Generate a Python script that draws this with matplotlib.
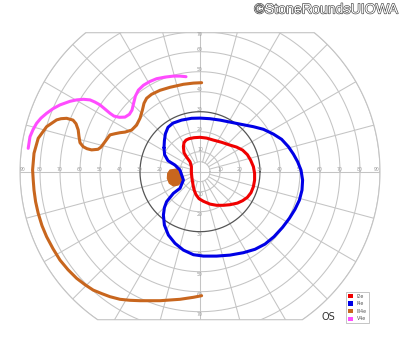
import numpy as np
import matplotlib
matplotlib.use("Agg")
import matplotlib.pyplot as plt
from matplotlib.patches import Polygon, Patch
from matplotlib import patheffects as pe

# ---- data: isopters, field coordinates in degrees (x: horizontal, y: vertical) ----
i2e_x = [-8.3, -8.0, -7.0, -5.5, -3.0, 0.0, 3.3, 6.7, 10.8, 15.0, 18.3, 21.3, 23.7, 25.3,
         26.7, 27.3, 27.3, 26.7, 25.5, 23.7, 21.3, 18.7, 15.0, 11.7, 8.3, 5.0, 1.7, -0.5,
         -2.0, -3.0, -3.5, -4.0, -4.3, -4.3, -5.0, -6.7, -8.0, -8.3]
i2e_y = [12.5, 14.5, 15.8, 16.5, 17.0, 17.2, 16.8, 15.8, 14.7, 13.3, 12.3, 10.8, 8.5, 5.8,
         2.5, -0.8, -4.2, -7.5, -10.5, -12.8, -14.5, -15.7, -16.5, -16.8, -16.8, -16.2, -14.8, -13.5,
         -11.5, -9.0, -6.5, -3.5, -0.5, 2.5, 5.0, 7.3, 9.5, 12.5]

i4e_x = [-18.0, -17.8, -17.3, -16.0, -13.5, -9.2, -4.2, 0.0, 5.0, 10.0, 15.0, 20.0, 26.7,
         31.7, 36.7, 40.8, 44.2, 46.7, 48.8, 50.5, 51.3, 51.0, 49.7, 47.5, 44.7, 41.3, 37.0,
         32.5, 27.5, 21.7, 15.0, 8.3, 1.7, -3.3, -8.3, -12.5, -15.8, -17.8, -18.3, -17.8,
         -16.7, -13.3, -10.0, -8.3, -10.0, -12.5, -16.0, -17.7, -18.0]
i4e_y = [12.0, 15.5, 19.0, 22.2, 24.3, 25.8, 26.7, 26.8, 26.5, 25.8, 24.8, 23.8, 22.5,
         21.2, 18.8, 16.2, 12.5, 8.8, 5.0, 0.8, -4.2, -9.2, -14.2, -18.8, -23.3, -27.8, -32.5,
         -36.2, -38.8, -40.5, -41.7, -42.2, -42.2, -41.5, -39.2, -35.8, -31.7, -26.7, -21.7, -18.0,
         -15.0, -10.8, -8.3, -4.2, 0.8, 3.3, 5.5, 8.5, 12.0]

iii4e_x = [0.8, -3.3, -8.3, -15.0, -20.0, -24.2, -26.7, -28.0, -28.8, -30.0, -31.7, -34.2,
           -37.5, -40.0, -42.5, -45.0, -47.5, -49.5, -51.0, -54.2, -56.5, -58.4, -60.0, -60.5,
           -60.9, -62.0, -63.5, -66.7, -69.5, -71.7, -76.7, -80.9, -83.0, -83.7, -83.4, -83.0,
           -82.2, -80.9, -79.0, -76.7, -73.5, -70.0, -66.0, -61.7, -57.5, -53.4, -49.0, -45.0,
           -40.0, -35.0, -30.0, -20.0, -10.0, -3.3, 0.8]
iii4e_y = [44.5, 44.3, 43.7, 42.2, 40.7, 38.7, 36.7, 34.2, 30.8, 26.7, 23.3, 20.8,
           19.8, 19.5, 19.0, 18.4, 15.0, 12.3, 11.2, 10.9, 11.5, 12.5, 14.5, 17.5,
           20.9, 24.0, 25.8, 26.7, 26.5, 25.9, 22.5, 16.7, 9.2, 0.9, -4.0, -9.2,
           -15.0, -20.8, -27.0, -32.5, -38.5, -44.2, -49.0, -53.3, -56.5, -59.2, -61.0, -62.5,
           -63.8, -64.3, -64.5, -64.5, -63.8, -62.8, -62.0]

# blind-spot scotoma (III4e), filled
spot_x = [-15.0, -11.65, -9.65, -8.65, -9.15, -10.85, -13.35, -15.35, -16.35, -16.15]
spot_y = [0.85, 1.35, 0.0, -2.5, -5.0, -6.65, -7.15, -5.8, -3.3, -0.8]

v4e_x = [-7.0, -10.0, -13.3, -17.5, -21.7, -25.3, -28.3, -30.8, -32.3, -33.2, -34.0, -35.3,
         -37.5, -40.3, -43.0, -45.0, -47.5, -50.0, -52.5, -55.0, -58.3, -61.7, -65.0, -70.0,
         -73.5, -76.7, -79.5, -81.7, -83.5, -85.0, -85.9]
v4e_y = [47.5, 47.8, 47.8, 47.3, 46.5, 45.0, 43.2, 40.8, 37.8, 34.2, 30.8, 28.7,
         27.3, 27.2, 27.8, 29.2, 31.3, 33.4, 34.8, 35.9, 36.2, 35.9, 35.2, 33.4,
         31.5, 29.2, 26.8, 24.2, 21.0, 17.5, 11.7]

ring_values = [10, 20, 30, 40, 50, 60, 70, 80, 90]
h_labels = ["10", "20", "30", "40", "50", "60", "70", "80", "90"]
v_labels = ["10", "20", "30", "40", "50", "60", "70"]
legend_labels = ["I2e", "I4e", "III4e", "V4e"]
colors = ["#f00000", "#0000e6", "#c8661e", "#ff4cff"]

fig = plt.figure(figsize=(4.0, 3.52), dpi=100)
ax = fig.add_axes([0, 0, 1, 1])
ax.set_xlim(-100, 100)
ax.set_ylim(-90.15, 85.85)
ax.axis("off")

TOP, BOT, RMAX = 69.5, 74.0, 90.0
a_top = np.degrees(np.arcsin(TOP / RMAX))
a_bot = np.degrees(np.arcsin(BOT / RMAX))
th1 = np.radians(np.linspace(a_top, -a_bot, 200))
th2 = np.radians(np.linspace(180 + a_bot, 180 - a_top, 200))
bx = np.concatenate([RMAX * np.cos(th1), RMAX * np.cos(th2)])
by = np.concatenate([RMAX * np.sin(th1), RMAX * np.sin(th2)])
border = Polygon(np.column_stack([bx, by]), closed=True, fill=False,
                 edgecolor="#c4c4c4", lw=0.8, zorder=1)
ax.add_patch(border)

grid_c = "#c4c4c4"
t = np.linspace(0, 2 * np.pi, 400)
for r in [5] + ring_values:
    if r == 30:
        continue
    ln, = ax.plot(r * np.cos(t), r * np.sin(t), color=grid_c, lw=0.75, zorder=1)
    ln.set_clip_path(border)
ax.plot(30 * np.cos(t), 30 * np.sin(t), color="#555555", lw=0.9, zorder=2)

for a in range(0, 360, 15):
    ar = np.radians(a)
    r0 = 0 if a % 90 == 0 else 5
    ln, = ax.plot([r0 * np.cos(ar), 100 * np.cos(ar)], [r0 * np.sin(ar), 100 * np.sin(ar)],
                  color=grid_c, lw=0.75, zorder=1)
    ln.set_clip_path(border)

lab_kw = dict(fontsize=3.3, color="#9a9a9a", ha="center", va="center", zorder=3)
for r, s in zip(ring_values, h_labels):
    xr = 88.5 if r == 90 else r
    ax.text(xr, 1.0, s, **lab_kw)
    ax.text(-xr, 1.0, s, **lab_kw)
for r, s in zip(ring_values, v_labels):
    yt = 68.6 if r == 70 else r + 1.2
    ax.text(0, yt, s, **lab_kw)
    ax.text(0, -(r + 1.2), s, **lab_kw)

lw = 2.2
style = dict(lw=lw, solid_joinstyle="round", solid_capstyle="round", zorder=5)
ax.plot(i2e_x, i2e_y, color=colors[0], **style)
ax.plot(i4e_x, i4e_y, color=colors[1], **style)
ax.plot(iii4e_x, iii4e_y, color=colors[2], **style)
ax.fill(spot_x, spot_y, color=colors[2], lw=0.8, zorder=4)
ax.plot(v4e_x, v4e_y, color=colors[3], **style)

handles = [Patch(facecolor=c, edgecolor="none", label=l) for c, l in zip(colors, legend_labels)]
leg = ax.legend(handles=handles, loc="upper left",
                bbox_to_anchor=(346 / 400, 1 - 292 / 352), bbox_transform=fig.transFigure,
                fontsize=3.4, handlelength=1.05, handleheight=1.05, labelspacing=0.55,
                handletextpad=0.9, borderpad=0.35, borderaxespad=0, fancybox=False,
                framealpha=1, edgecolor="#bbbbbb", labelcolor="#555555")
leg.get_frame().set_linewidth(0.6)

fig.text(328.5 / 400, 1 - 316.5 / 352, "OS", fontsize=7, color="#333333",
         ha="center", va="center", family="DejaVu Sans")

fig.text(398 / 400, 1 - 13.5 / 352, "\u00a9StoneRoundsUIOWA", fontsize=10.2,
         family="Liberation Sans", color="white", ha="right", va="baseline",
         path_effects=[pe.withStroke(linewidth=0.9, foreground="#444444")])

fig.savefig("out.png", dpi=100)
